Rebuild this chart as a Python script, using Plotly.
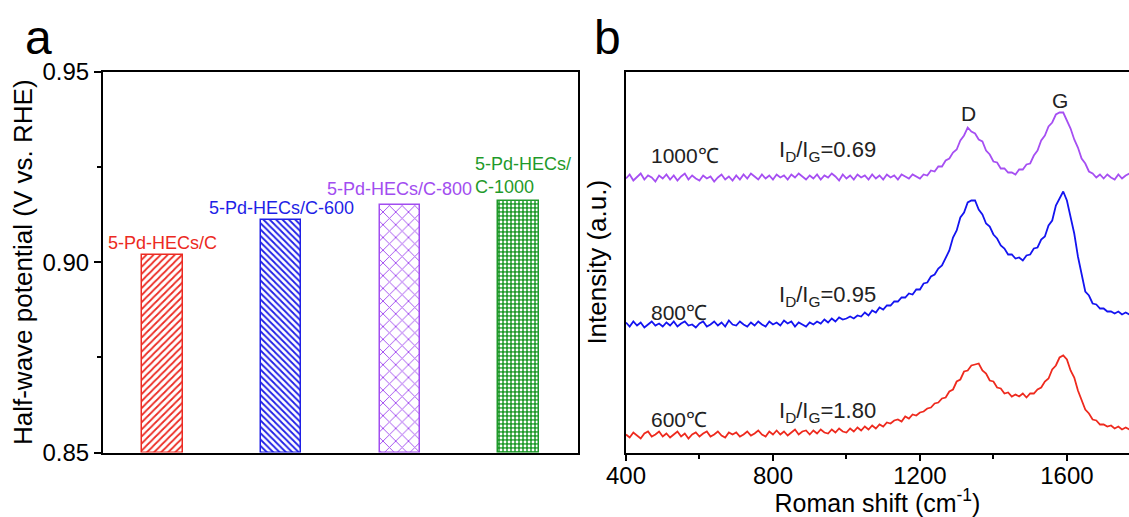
import plotly.graph_objects as go

# ---------------- data: panel a ----------------
samples = ["5-Pd-HECs/C", "5-Pd-HECs/C-600", "5-Pd-HECs/C-800", "5-Pd-HECs/C-1000"]
sample_labels = ["5-Pd-HECs/C", "5-Pd-HECs/C-600", "5-Pd-HECs/C-800", "5-Pd-HECs/<br>C-1000"]
half_wave = [0.902, 0.911, 0.915, 0.916]
bar_colors = ["#ec2a22", "#1f1fe6", "#a24df0", "#1f9a2a"]
y_ticks_a = [0.85, 0.90, 0.95]

# ---------------- data: panel b ----------------
raman_shift = list(range(400, 1771, 10))
int_600 = [
    18, 15, 20, 17, 14, 19, 21, 16, 18, 21,
    16, 19, 15, 18, 21, 16, 19, 14, 18, 20,
    16, 19, 21, 16, 18, 21, 17, 15, 20, 18,
    20, 16, 18, 21, 17, 19, 22, 18, 16, 21,
    18, 22, 18, 21, 17, 20, 23, 18, 21, 22,
    18, 22, 19, 23, 20, 19, 23, 20, 24, 21,
    20, 24, 21, 25, 22, 26, 23, 27, 24, 28,
    26, 30, 29, 32, 33, 31, 36, 34, 38, 37,
    40, 41, 44, 45, 49, 50, 54, 55, 61, 63,
    71, 73, 81, 82, 87, 88, 89, 82, 79, 72,
    71, 65, 64, 59, 60, 56, 58, 56, 59, 55,
    59, 59, 63, 65, 71, 74, 83, 87, 95, 97,
    93, 82, 75, 62, 53, 43, 39, 33, 32, 28,
    28, 26, 27, 24, 26, 23, 25, 23,
]
int_800 = [
    130, 126, 131, 127, 130, 125, 128, 131, 127, 129,
    126, 130, 127, 131, 126, 129, 131, 127, 128, 125,
    129, 131, 126, 128, 131, 127, 130, 126, 132, 128,
    127, 131, 128, 126, 130, 127, 131, 128, 126, 131,
    128, 130, 127, 132, 129, 131, 126, 130, 128, 126,
    130, 128, 131, 129, 133, 130, 134, 131, 135, 133,
    134, 136, 134, 137, 136, 140, 137, 142, 140, 145,
    143, 147, 147, 151, 151, 155, 155, 159, 158, 163,
    163, 169, 170, 176, 178, 184, 187, 195, 202, 215,
    222, 235, 240, 250, 252, 252, 243, 238, 229, 226,
    218, 214, 207, 204, 198, 198, 194, 195, 192, 197,
    198, 204, 205, 213, 216, 227, 232, 247, 254, 261,
    252, 234, 219, 196, 180, 161, 157, 149, 148, 144,
    144, 141, 141, 139, 141, 138, 140, 138,
]
int_1000 = [
    274, 278, 272, 276, 279, 273, 277, 275, 271, 277,
    274, 278, 273, 277, 272, 276, 279, 273, 277, 274,
    272, 277, 274, 276, 271, 275, 278, 273, 276, 272,
    277, 273, 278, 274, 279, 276, 273, 278, 274, 277,
    273, 278, 275, 277, 273, 278, 275, 279, 276, 273,
    277, 274, 278, 273, 277, 275, 279, 276, 272, 278,
    274, 277, 273, 278, 275, 277, 273, 278, 274, 277,
    273, 278, 275, 277, 273, 278, 276, 274, 278, 276,
    274, 278, 277, 282, 281, 286, 286, 292, 294, 300,
    303, 312, 317, 325, 321, 319, 313, 311, 302, 298,
    291, 290, 284, 284, 280, 280, 278, 283, 283, 288,
    289, 297, 302, 312, 317, 326, 330, 338, 340, 340,
    331, 324, 313, 305, 294, 289, 281, 279, 275, 278,
    274, 278, 275, 273, 278, 274, 277, 279,
]
spectra_names = ["600℃", "800℃", "1000℃"]
ratio_labels = ["I<sub>D</sub>/I<sub>G</sub>=1.80", "I<sub>D</sub>/I<sub>G</sub>=0.95",
                "I<sub>D</sub>/I<sub>G</sub>=0.69"]
spectra_colors = ["#ee2a1e", "#1414f0", "#a64ff2"]
x_ticks_b = [400, 800, 1200, 1600]

FONT = "Liberation Sans, Arial, sans-serif"

fig = go.Figure()

patterns = [
    dict(shape="/", fgcolor=bar_colors[0], bgcolor="white", size=5, solidity=0.35, fgopacity=1),
    dict(shape="\\", fgcolor=bar_colors[1], bgcolor="white", size=4.5, solidity=0.4, fgopacity=1),
    dict(shape="x", fgcolor=bar_colors[2], bgcolor="white", size=9, solidity=0.2, fgopacity=1),
    dict(shape=".", fgcolor="white", bgcolor=bar_colors[3], size=4, solidity=0.4, fgopacity=1),
]
for i in range(len(samples)):
    fig.add_trace(go.Bar(
        x=[i], y=[half_wave[i] - 0.85], base=0.85, width=0.34,
        marker=dict(color="white", line=dict(color=bar_colors[i], width=1.5),
                    pattern=patterns[i]),
        name=samples[i], showlegend=False, xaxis="x", yaxis="y",
    ))

label_shift = [0, 0, 4, 2]
for i in range(len(samples)):
    fig.add_annotation(
        x=i + (0.04 if i == 3 else 0), y=half_wave[i], xref="x", yref="y",
        text=sample_labels[i], showarrow=False, yanchor="bottom",
        yshift=label_shift[i], align="left",
        font=dict(family=FONT, size=18, color=bar_colors[i]),
    )

spectra = [int_600, int_800, int_1000]
for k in range(3):
    fig.add_trace(go.Scatter(
        x=raman_shift, y=spectra[k], mode="lines",
        line=dict(color=spectra_colors[k], width=1.8),
        name=spectra_names[k], showlegend=False, xaxis="x2", yaxis="y2",
    ))

name_pos_y = [33, 140, 297]
ratio_pos_y = [41, 157, 302]
for k in range(3):
    fig.add_annotation(x=462, y=name_pos_y[k], xref="x2", yref="y2", text=spectra_names[k],
                       xanchor="left", showarrow=False,
                       font=dict(family=FONT, size=21, color="#222"))
    fig.add_annotation(x=812, y=ratio_pos_y[k], xref="x2", yref="y2", text=ratio_labels[k],
                       xanchor="left", showarrow=False,
                       font=dict(family=FONT, size=22, color="#222"))
fig.add_annotation(x=1333, y=339, xref="x2", yref="y2", text="D", showarrow=False,
                   font=dict(family=FONT, size=21, color="#222"))
fig.add_annotation(x=1581, y=352, xref="x2", yref="y2", text="G", showarrow=False,
                   font=dict(family=FONT, size=21, color="#222"))

# panel letters
fig.add_annotation(x=38 / 1129, y=1 - 37 / 517, xref="paper", yref="paper", text="a",
                   xanchor="center", yanchor="middle", showarrow=False,
                   font=dict(family=FONT, size=48, color="black"))
fig.add_annotation(x=607 / 1129, y=1 - 38 / 517, xref="paper", yref="paper", text="b",
                   xanchor="center", yanchor="middle", showarrow=False,
                   font=dict(family=FONT, size=48, color="black"))

ydom = [1 - 452.5 / 517, 1 - 72 / 517]
axline = dict(showline=True, linecolor="black", linewidth=2, showgrid=False,
              zeroline=False, automargin=False)

fig.update_layout(
    width=1129, height=517, margin=dict(l=0, r=0, t=0, b=0, autoexpand=False),
    paper_bgcolor="white", plot_bgcolor="white",
    font=dict(family=FONT, size=22, color="black"),
    bargap=0,
    xaxis=dict(domain=[103 / 1129, 578 / 1129], range=[-0.5, 3.5], mirror=True,
               showticklabels=False, ticks="", fixedrange=True, **axline),
    yaxis=dict(domain=ydom, range=[0.85, 0.95], mirror=True, ticks="outside",
               ticklen=7, tickwidth=2, tickcolor="black", tickvals=y_ticks_a,
               ticktext=["%.2f" % v for v in y_ticks_a], tickfont=dict(size=24),
               minor=dict(ticks="outside", ticklen=4, tickwidth=2, tickcolor="black",
                          tickvals=[0.875, 0.925]),
               title=dict(text="Half-wave potential (V vs. RHE)", font=dict(size=26), standoff=2),
               **axline),
    xaxis2=dict(domain=[626 / 1129, 1.0], range=[400, 1769], mirror=True, ticks="outside",
                ticklen=6, tickwidth=2, tickcolor="black", tickvals=x_ticks_b,
                tickfont=dict(size=24), ticklabelstandoff=-5,
                minor=dict(ticks="outside", ticklen=4, tickwidth=2, tickcolor="black",
                           tickvals=[600, 1000, 1400]),
                title=dict(text="Roman shift (cm<sup>-1</sup>)", font=dict(size=25), standoff=4),
                anchor="y2", **axline),
    yaxis2=dict(domain=ydom, range=[0, 380.5], showticklabels=False, ticks="",
                title=dict(text="Intensity (a.u.)", font=dict(size=26), standoff=10),
                anchor="x2", **axline),
)

fig.write_html("out.html")
